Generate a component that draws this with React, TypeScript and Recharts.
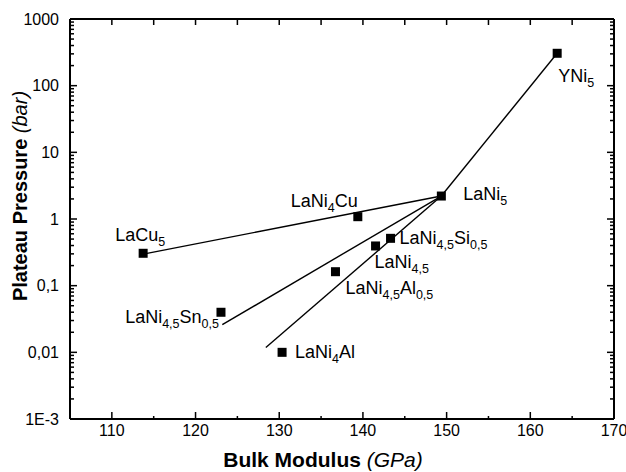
import React from "react";
import { ScatterChart, Scatter, XAxis, YAxis, ReferenceLine } from "recharts";

// compounds, bulk modulus (GPa) and plateau pressure (bar)
const compounds = [
    "LaCu_{5}",
    "LaNi_{4}Cu",
    "LaNi_{5}",
    "YNi_{5}",
    "LaNi_{4,5}Si_{0,5}",
    "LaNi_{4,5}",
    "LaNi_{4,5}Al_{0,5}",
    "LaNi_{4,5}Sn_{0,5}",
    "LaNi_{4}Al",
];
const bulkModulus = [113.74, 139.39, 149.37, 163.21, 143.3, 141.51, 136.72, 123.04, 130.34];
const plateauPressure = [0.306, 1.083, 2.21, 306, 0.513, 0.394, 0.162, 0.0399, 0.01];

// guide lines
const cuLineX = [113.9, 149.37];
const cuLineY = [0.3, 2.21];
const snLineX = [123.2, 149.37];
const snLineY = [0.026, 2.21];
const alLineX = [128.4, 149.37, 163.21];
const alLineY = [0.0118, 2.21, 306];

const xDomain: [number, number] = [105, 170];
const yDomain: [number, number] = [0.001, 1000];
const xMajorTicks = [110, 120, 130, 140, 150, 160, 170];
const xMinorTicks = [115, 125, 135, 145, 155, 165];
const yMajorTicks = [0.001, 0.01, 0.1, 1, 10, 100, 1000];
const yTickLabels = ["1E-3", "0,01", "0,1", "1", "10", "100", "1000"];
const yMinorSteps = [2, 3, 4, 5, 6, 7, 8, 9];

const yMinorTicks = yMajorTicks.slice(0, -1).flatMap((d) => yMinorSteps.map((s) => d * s));

const points = compounds.map((name, i) => ({ i, label: name, x: bulkModulus[i], y: plateauPressure[i] }));

// polyline -> list of segments for ReferenceLine
const toSegments = (xs: number[], ys: number[]) =>
    xs.slice(1).map((x, i) => [
        { x: xs[i], y: ys[i] },
        { x, y: ys[i + 1] },
    ]);
const guideSegments = [
    ...toSegments(cuLineX, cuLineY),
    ...toSegments(snLineX, snLineY),
    ...toSegments(alLineX, alLineY),
];

// inward tick marks on the four sides of the frame
const bottomTicks = [
    ...xMajorTicks.map((x) => ({ x, y: yDomain[0], len: 7 })),
    ...xMinorTicks.map((x) => ({ x, y: yDomain[0], len: 3 })),
];
const topTicks = [...xMajorTicks, ...xMinorTicks].map((x) => ({ x, y: yDomain[1], len: 6 }));
const leftTicks = [
    ...yMajorTicks.map((y) => ({ x: xDomain[0], y, len: 7 })),
    ...yMinorTicks.map((y) => ({ x: xDomain[0], y, len: 4 })),
];
const rightTicks = leftTicks.map((t) => ({ ...t, x: xDomain[1] }));

// label placement relative to each marker (px)
const labelLayout: { dx: number; dy: number; anchor?: "start" | "end" }[] = [
    { dx: -28, dy: -12 },
    { dx: -67, dy: -10 },
    { dx: 22, dy: 4 },
    { dx: 1, dy: 29 },
    { dx: 9, dy: 6 },
    { dx: -1, dy: 22 },
    { dx: 10, dy: 22 },
    { dx: -2, dy: 11, anchor: "end" },
    { dx: 13, dy: 6 },
];

const FONT = "'Liberation Sans', Arial, Helvetica, sans-serif";

const formula = (s: string) => {
    const parts = s.split(/_\{([^}]*)\}/);
    const out: React.ReactNode[] = [];
    let low = false;
    parts.forEach((p, i) => {
        if (!p) return;
        if (i % 2 === 1) {
            out.push(
                <tspan key={i} fontSize={12.5} dy={low ? 0 : 5}>
                    {p}
                </tspan>
            );
            low = true;
        } else {
            out.push(
                <tspan key={i} dy={low ? -5 : 0}>
                    {p}
                </tspan>
            );
            low = false;
        }
    });
    return out;
};

const PointMark = (props: any) => {
    const { cx, cy, payload } = props;
    const lay = labelLayout[payload.i];
    return (
        <g>
            <rect x={cx - 4.5} y={cy - 4.5} width={9} height={9} fill="#000" />
            <text
                x={cx + lay.dx}
                y={cy + lay.dy}
                textAnchor={lay.anchor ?? "start"}
                fontSize={18}
                fontFamily={FONT}
                fill="#000"
            >
                {formula(payload.label)}
            </text>
        </g>
    );
};

const TW = 1.5;
const UpTick = (p: any) => <rect x={p.cx - TW / 2} y={p.cy - p.payload.len} width={TW} height={p.payload.len} fill="#000" />;
const DownTick = (p: any) => <rect x={p.cx - TW / 2} y={p.cy} width={TW} height={p.payload.len} fill="#000" />;
const RightwardTick = (p: any) => <rect x={p.cx} y={p.cy - TW / 2} width={p.payload.len} height={TW} fill="#000" />;
const LeftwardTick = (p: any) => <rect x={p.cx - p.payload.len} y={p.cy - TW / 2} width={p.payload.len} height={TW} fill="#000" />;

const renderBottomLabel = (props: any) => {
    const { x, y, payload } = props;
    return (
        <text x={x} y={y + 17} textAnchor="middle" fontSize={16} fontFamily={FONT} fill="#000">
            {payload.value}
        </text>
    );
};

const renderLeftLabel = (props: any) => {
    const { x, y, payload } = props;
    const idx = yMajorTicks.indexOf(payload.value);
    return (
        <text x={x - 11} y={y + 5.5} textAnchor="end" fontSize={16} fontFamily={FONT} fill="#000">
            {yTickLabels[idx]}
        </text>
    );
};

const axisLine = { stroke: "#000", strokeWidth: 2 };

const titleBase: React.CSSProperties = {
    position: "absolute",
    fontFamily: FONT,
    color: "#000",
    textAlign: "center",
    whiteSpace: "nowrap",
};

export default function App() {
    return (
        <div style={{ position: "absolute", left: 0, top: 0, width: 626, height: 472, background: "#fff" }}>
            <ScatterChart width={626} height={472} margin={{ top: 19, right: 12, bottom: 0, left: 0 }}>
                <XAxis
                    dataKey="x"
                    type="number"
                    domain={xDomain}
                    ticks={xMajorTicks}
                    interval={0}
                    tick={renderBottomLabel}
                    tickLine={false}
                    tickSize={0}
                    tickMargin={0}
                    axisLine={axisLine}
                    height={53}
                />
                <YAxis
                    dataKey="y"
                    type="number"
                    scale="log"
                    domain={yDomain}
                    ticks={yMajorTicks}
                    interval={0}
                    tick={renderLeftLabel}
                    tickLine={false}
                    tickSize={0}
                    tickMargin={0}
                    axisLine={axisLine}
                    width={70}
                    allowDataOverflow
                />
                <ReferenceLine x={xDomain[1]} stroke="#000" strokeWidth={2} ifOverflow="visible" />
                <ReferenceLine y={yDomain[1]} stroke="#000" strokeWidth={2} ifOverflow="visible" />
                {guideSegments.map((seg, k) => (
                    <ReferenceLine key={k} segment={seg} stroke="#000" strokeWidth={1.4} ifOverflow="visible" />
                ))}
                <Scatter data={bottomTicks} shape={UpTick} isAnimationActive={false} />
                <Scatter data={topTicks} shape={DownTick} isAnimationActive={false} />
                <Scatter data={leftTicks} shape={RightwardTick} isAnimationActive={false} />
                <Scatter data={rightTicks} shape={LeftwardTick} isAnimationActive={false} />
                <Scatter data={points} shape={PointMark} isAnimationActive={false} />
            </ScatterChart>
            <div style={{ ...titleBase, left: 0, top: 449, width: 646, fontSize: 21, lineHeight: "21px" }}>
                <span style={{ fontWeight: "bold" }}>Bulk Modulus </span>
                <span style={{ fontStyle: "italic" }}>(GPa)</span>
            </div>
            <div
                style={{
                    ...titleBase,
                    left: -130,
                    top: 186,
                    width: 300,
                    fontSize: 20,
                    lineHeight: "20px",
                    transform: "rotate(-90deg)",
                }}
            >
                <span style={{ fontWeight: "bold" }}>Plateau Pressure </span>
                <span style={{ fontStyle: "italic" }}>(bar)</span>
            </div>
        </div>
    );
}
